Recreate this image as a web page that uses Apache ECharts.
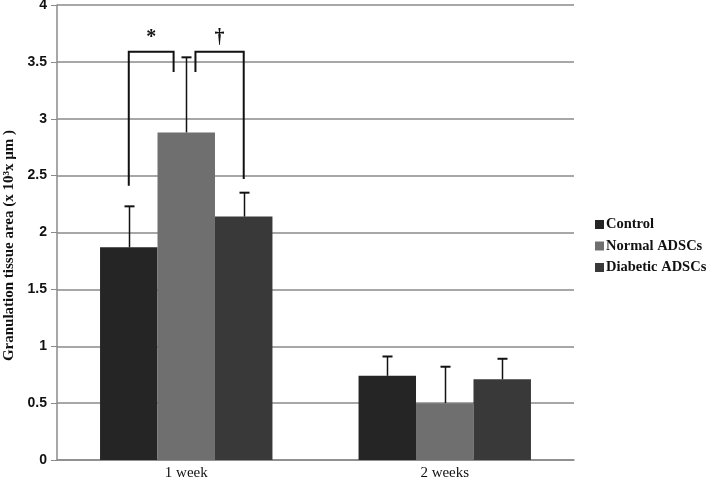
<!DOCTYPE html>
<html>
<head>
<meta charset="utf-8">
<script src="https://cdn.jsdelivr.net/npm/echarts@6/dist/echarts.min.js"></script>
<style>html,body{margin:0;padding:0;background:#fff}#c{width:709px;height:480px}</style>
</head>
<body>
<div id="c"></div>
<script>
var categories = ['1 week', '2 weeks'];
var seriesNames = ['Control', 'Normal ADSCs', 'Diabetic ADSCs'];
var controlValues = [1.87, 0.74];
var controlUpper = [2.23, 0.91];
var normalValues = [2.88, 0.50];
var normalUpper = [3.54, 0.82];
var diabeticValues = [2.14, 0.71];
var diabeticUpper = [2.35, 0.89];
var yTicks = [0, 0.5, 1, 1.5, 2, 2.5, 3, 3.5, 4];
// significance brackets: category, left position / right position (in bar slots), top, left foot, right foot, symbol
var bracketCat = [0, 0];
var bracketLeft = [-1, 0.16];
var bracketRight = [-0.22, 1];
var bracketTop = [3.59, 3.59];
var bracketLeftFoot = [2.41, 3.41];
var bracketRightFoot = [3.41, 2.47];
var bracketSymbol = ['*', '\u2020'];

var colors = ['#252525', '#6f6f6f', '#393939'];
var GAP = 0.333;

var chart = echarts.init(document.getElementById('c'), null, {renderer: 'canvas'});

var errData = [];
[controlUpper, normalUpper, diabeticUpper].forEach(function (arr, s) {
  arr.forEach(function (v, i) { errData.push([i, s, v, [controlValues, normalValues, diabeticValues][s][i]]); });
});
var brData = bracketCat.map(function (c, i) {
  return [c, bracketLeft[i], bracketRight[i], bracketTop[i], bracketLeftFoot[i], bracketRightFoot[i], i];
});

function slotW(api) { return api.size([1, 0])[0] * (1 - GAP) / 3; }

var option = {
  animation: false,
  color: colors,
  grid: {left: 57, right: 135, top: 5, bottom: 20, containLabel: false, outerBoundsMode: 'none'},
  legend: {
    orient: 'vertical', left: 590, top: 212,
    itemWidth: 9, itemHeight: 9, itemGap: 6.5,
    icon: 'rect',
    data: seriesNames,
    textStyle: {fontFamily: 'Liberation Serif', fontWeight: 'bold', fontSize: 14.5, color: '#111', padding: [0, 0, 0, -3]}
  },
  xAxis: {
    type: 'category', data: categories,
    axisLine: {lineStyle: {color: '#8a8a8a', width: 1.5}},
    axisTick: {show: false},
    axisLabel: {fontFamily: 'Liberation Serif', fontSize: 15, color: '#111', margin: 6}
  },
  yAxis: {
    type: 'value', min: 0, max: 4, interval: 0.5,
    name: 'Granulation tissue area (x 10\u00b3x \u00b5m )',
    nameLocation: 'middle', nameGap: 38, nameRotate: 90,
    nameTextStyle: {fontFamily: 'Liberation Serif', fontWeight: 'bold', fontSize: 15, color: '#111', padding: [0, 0, 0, -26]},
    axisLine: {show: true, lineStyle: {color: '#8a8a8a', width: 1.5}},
    axisTick: {show: true, length: 6, lineStyle: {color: '#8a8a8a'}},
    axisLabel: {fontFamily: 'Liberation Sans', fontWeight: 'bold', fontSize: 14, color: '#111', margin: 10,
      formatter: function (v) { return yTicks.indexOf(v) >= 0 ? String(v) : ''; }},
    splitLine: {lineStyle: {color: '#8a8a8a', width: 1.5}}
  },
  series: [
    {name: seriesNames[0], type: 'bar', data: controlValues, barGap: '0%', barCategoryGap: (GAP * 100) + '%', itemStyle: {color: colors[0]}},
    {name: seriesNames[1], type: 'bar', data: normalValues, itemStyle: {color: colors[1]}},
    {name: seriesNames[2], type: 'bar', data: diabeticValues, itemStyle: {color: colors[2]}},
    {
      type: 'custom', data: errData, z: 5,
      renderItem: function (params, api) {
        var c = api.value(0), s = api.value(1), up = api.value(2), v = api.value(3);
        var w = slotW(api);
        var p1 = api.coord([c, v]), p2 = api.coord([c, up]);
        var x = Math.round(p1[0] + (s - 1) * w) + 0.5;
        return {type: 'group', children: [
          {type: 'line', shape: {x1: x, y1: p1[1], x2: x, y2: p2[1]}, style: {stroke: '#111', lineWidth: 1.5}},
          {type: 'line', shape: {x1: x - 5, y1: p2[1], x2: x + 5, y2: p2[1]}, style: {stroke: '#111', lineWidth: 2}}
        ]};
      }
    },
    {
      type: 'custom', data: brData, z: 6,
      renderItem: function (params, api) {
        var c = api.value(0), l = api.value(1), r = api.value(2), t = api.value(3), lf = api.value(4), rf = api.value(5), idx = api.value(6);
        var w = slotW(api);
        var cx = api.coord([c, 0])[0];
        var xl = cx + l * w, xr = cx + r * w;
        var yt = api.coord([c, t])[1], yl = api.coord([c, lf])[1], yr = api.coord([c, rf])[1];
        return {type: 'group', children: [
          {type: 'polyline', shape: {points: [[xl, yl], [xl, yt], [xr, yt], [xr, yr]]}, style: {stroke: '#111', lineWidth: 2, fill: null}},
          {type: 'text', style: {text: bracketSymbol[idx], x: (xl + xr) / 2, y: yt - 4, align: 'center', verticalAlign: 'bottom',
            fontFamily: 'Liberation Serif', fontWeight: 'bold', fontSize: 20, fill: '#111'}}
        ]};
      }
    }
  ]
};
chart.setOption(option);
</script>
</body>
</html>
